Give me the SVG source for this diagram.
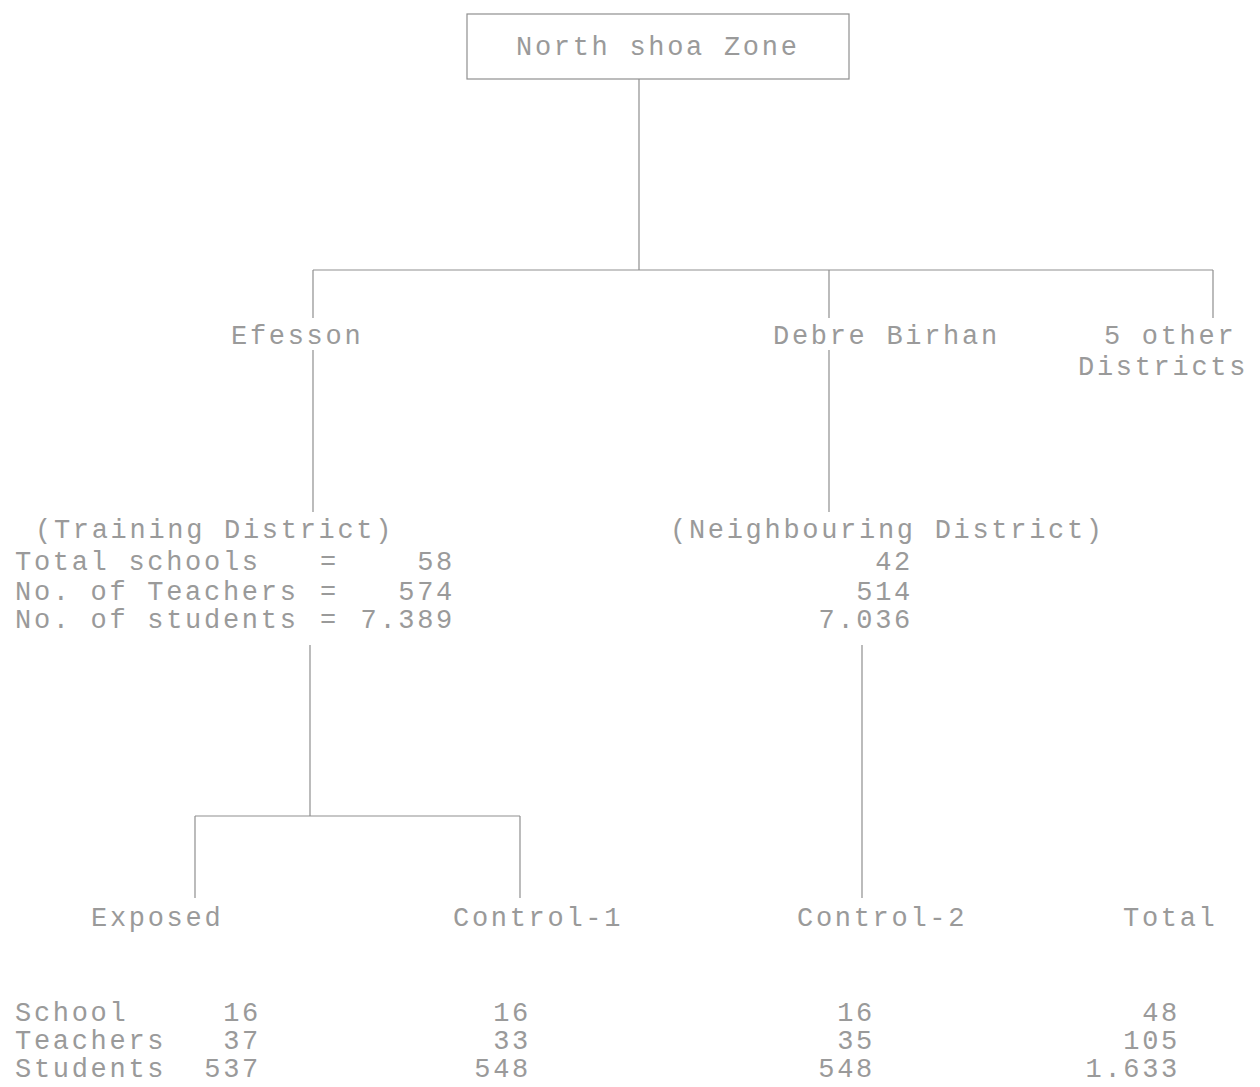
<svg xmlns="http://www.w3.org/2000/svg" width="1260" height="1087" viewBox="0 0 1260 1087">
<style>
text{font-family:"Liberation Mono","DejaVu Sans Mono",monospace;font-size:27px;letter-spacing:2.7px;fill:#9a9a9a}
.n{text-anchor:end}
.ln{stroke:#8f8f8f;stroke-width:1.2;fill:none}
</style>
<rect width="1260" height="1087" fill="#ffffff"/>
<g id="connectors">
<path class="ln" d="M639 79V270M313 270H1213M313 270V318M829 270V318M1213 270V318"/>
<path class="ln" d="M313 350V512M829 350V512"/>
<path class="ln" d="M310 645V816M195 816H520M195 816V898M520 816V898M862 645V898"/>
</g>
<g id="north-shoa-zone">
<rect class="ln" x="467" y="14" width="382" height="65"/>
<text x="516" y="55">North shoa Zone</text>
</g>
<g id="efesson"><text x="231" y="344">Efesson</text></g>
<g id="debre-birhan"><text x="773" y="344">Debre Birhan</text></g>
<g id="other-districts"><text x="1104" y="344">5 other</text><text x="1078" y="375">Districts</text></g>
<g id="training-district">
<text x="35" y="538">(Training District)</text>
<text x="15" y="570">Total schools</text><text x="320" y="570">=</text><text class="n" x="455" y="570">58</text>
<text x="15" y="600">No. of Teachers</text><text x="320" y="600">=</text><text class="n" x="455" y="600">574</text>
<text x="15" y="628">No. of students</text><text x="320" y="628">=</text><text class="n" x="455" y="628">7.389</text>
</g>
<g id="neighbouring-district">
<text x="670" y="538">(Neighbouring District)</text>
<text class="n" x="913" y="570">42</text>
<text class="n" x="913" y="600">514</text>
<text class="n" x="913" y="628">7.036</text>
</g>
<g id="exposed">
<text x="91" y="926">Exposed</text>
<text x="15" y="1021">School</text><text class="n" x="261" y="1021">16</text>
<text x="15" y="1049">Teachers</text><text class="n" x="261" y="1049">37</text>
<text x="15" y="1077">Students</text><text class="n" x="261" y="1077">537</text>
</g>
<g id="control-1">
<text x="453" y="926">Control-1</text>
<text class="n" x="531" y="1021">16</text>
<text class="n" x="531" y="1049">33</text>
<text class="n" x="531" y="1077">548</text>
</g>
<g id="control-2">
<text x="797" y="926">Control-2</text>
<text class="n" x="875" y="1021">16</text>
<text class="n" x="875" y="1049">35</text>
<text class="n" x="875" y="1077">548</text>
</g>
<g id="total">
<text x="1123" y="926">Total</text>
<text class="n" x="1180" y="1021">48</text>
<text class="n" x="1180" y="1049">105</text>
<text class="n" x="1180" y="1077">1.633</text>
</g>
</svg>
